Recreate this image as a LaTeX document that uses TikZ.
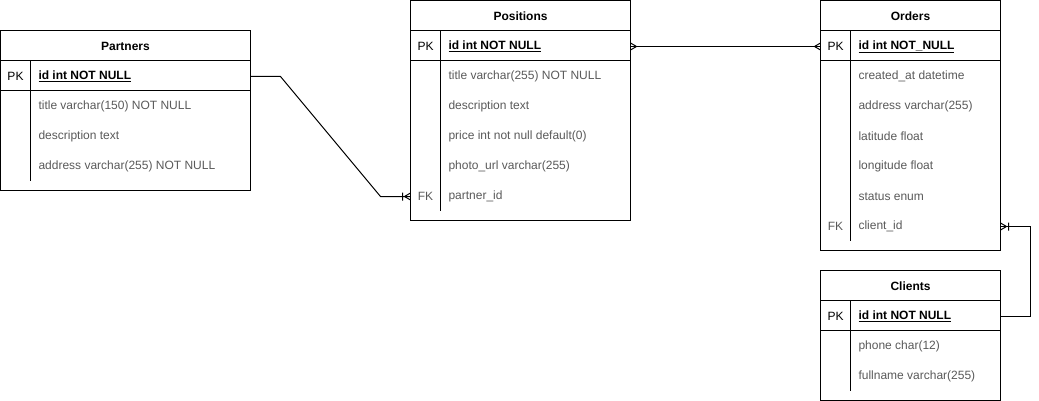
\documentclass[tikz,border=0pt]{standalone}
\usepackage{fontspec}
\setmainfont{Liberation Sans}
\usetikzlibrary{calc,decorations.markings}

\definecolor{fieldgray}{HTML}{595959}

\tikzset{
  tbl/.style={draw, anchor=north west, inner sep=0pt, outer sep=0pt},
  title/.style={yshift=-0.5pt, font=\fontsize{12}{14}\selectfont\bfseries},
  keytxt/.style={yshift=-1pt, font=\fontsize{12}{14}\selectfont},
  pktxt/.style={anchor=west, yshift=-1pt, inner sep=0pt, font=\fontsize{12}{14}\selectfont\bfseries},
  field/.style={anchor=west, yshift=-1pt, inner sep=0pt, text=fieldgray, font=\fontsize{12}{14}\selectfont},
  many start/.style={postaction={decorate, decoration={markings,
      mark=at position 0 with {\draw (6pt,0pt) -- (0pt,3.5pt) (6pt,0pt) -- (0pt,-3.5pt);}}}},
  many end/.style={postaction={decorate, decoration={markings,
      mark=at position 1 with {\draw (-6pt,0pt) -- (0pt,3.5pt) (-6pt,0pt) -- (0pt,-3.5pt);}}}},
  one many end/.style={postaction={decorate, decoration={markings,
      mark=at position 1 with {\draw (-6pt,0pt) -- (0pt,3.5pt) (-6pt,0pt) -- (0pt,-3.5pt)
                                      (-8pt,-4pt) -- (-8pt,4pt);}}}}
}

\begin{document}
\begin{tikzpicture}[x=1pt, y=-1pt, line width=1pt]

\useasboundingbox (0,0) rectangle (1039,401);

% Partners
\node[tbl, minimum width=250pt, minimum height=160pt] (partners) at (0.5,30.5) {};
\draw (0.5,60.5) -- (250.5,60.5);
\draw (0.5,90.5) -- (250.5,90.5);
\draw (30.5,60.5) -- (30.5,180.5);
\node[title] (partnersHead) at (125.5,45.5) {Partners};
\node[keytxt] (partnersPK) at (15.5,75.5) {PK};
\node[pktxt] (partnersId) at (38,75.5) {\underline{id int NOT NULL}};
\node[field] (partnersTitle) at (38,105.5) {title varchar(150) NOT NULL};
\node[field] (partnersDesc) at (38,135.5) {description text};
\node[field] (partnersAddr) at (38,165.5) {address varchar(255) NOT NULL};

% Positions
\node[tbl, minimum width=220pt, minimum height=220pt] (positions) at (410.5,0.5) {};
\draw (410.5,30.5) -- (630.5,30.5);
\draw (410.5,60.5) -- (630.5,60.5);
\draw (440.5,30.5) -- (440.5,210.5);
\node[title] (positionsHead) at (520.5,15.5) {Positions};
\node[keytxt] (positionsPK) at (425.5,45.5) {PK};
\node[pktxt] (positionsId) at (448,45.5) {\underline{id int NOT NULL}};
\node[field] (positionsTitle) at (448,75.5) {title varchar(255) NOT NULL};
\node[field] (positionsDesc) at (448,105.5) {description text};
\node[field] (positionsPrice) at (448,135.5) {price int not null default(0)};
\node[field] (positionsPhoto) at (448,165.5) {photo\_url varchar(255)};
\node[keytxt, text=fieldgray] (positionsFKk) at (425.5,195.5) {FK};
\node[field] (positionsFK) at (448,195.5) {partner\_id};

% Orders
\node[tbl, minimum width=180pt, minimum height=250pt] (orders) at (820.5,0.5) {};
\draw (820.5,30.5) -- (1000.5,30.5);
\draw (820.5,60.5) -- (1000.5,60.5);
\draw (850.5,30.5) -- (850.5,240.5);
\node[title] (ordersHead) at (910.5,15.5) {Orders};
\node[keytxt] (ordersPK) at (835.5,45.5) {PK};
\node[pktxt] (ordersId) at (858,45.5) {\underline{id int NOT\_NULL}};
\node[field] (ordersCreated) at (858,75.5) {created\_at datetime};
\node[field] (ordersAddr) at (858,105.5) {address varchar(255)};
\node[field] (ordersLat) at (858,135.5) {latitude float};
\node[field] (ordersLon) at (858,165.5) {longitude float};
\node[field] (ordersStatus) at (858,195.5) {status enum};
\node[keytxt, text=fieldgray] (ordersFKk) at (835.5,225.5) {FK};
\node[field] (ordersFK) at (858,225.5) {client\_id};

% Clients
\node[tbl, minimum width=180pt, minimum height=130pt] (clients) at (820.5,270.5) {};
\draw (820.5,300.5) -- (1000.5,300.5);
\draw (820.5,330.5) -- (1000.5,330.5);
\draw (850.5,300.5) -- (850.5,390.5);
\node[title] (clientsHead) at (910.5,285.5) {Clients};
\node[keytxt] (clientsPK) at (835.5,315.5) {PK};
\node[pktxt] (clientsId) at (858,315.5) {\underline{id int NOT NULL}};
\node[field] (clientsPhone) at (858,345.5) {phone char(12)};
\node[field] (clientsName) at (858,375.5) {fullname varchar(255)};

% relations
\draw[one many end] (partners.east |- partnersId) -- ++(30,0)
    -- ($(positions.west |- positionsFK)+(-30,0)$) -- (positions.west |- positionsFK);
\draw[many start, many end] (positions.east |- positionsId) -- (orders.west |- ordersId);
\draw[one many end] (clients.east |- clientsId) -- ++(30,0)
    -- ($(orders.east |- ordersFK)+(30,0)$) -- (orders.east |- ordersFK);

\end{tikzpicture}
\end{document}
